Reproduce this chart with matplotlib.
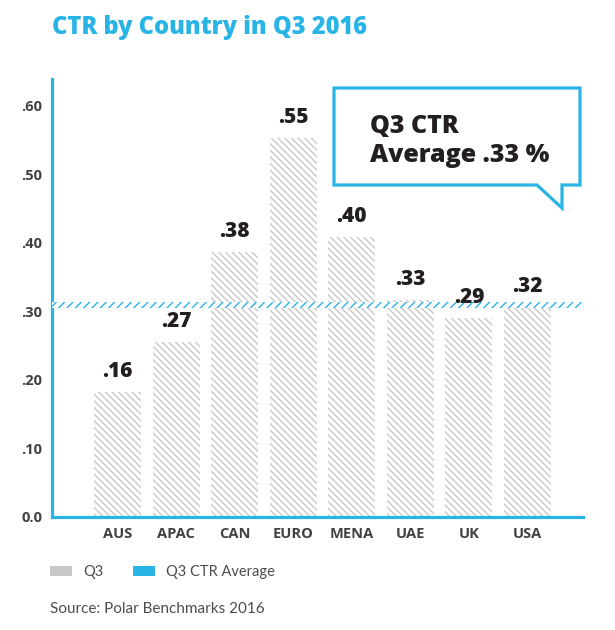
import matplotlib
matplotlib.use("Agg")
import matplotlib.pyplot as plt
from matplotlib.patches import Patch, Polygon

# data
countries = ["AUS", "APAC", "CAN", "EURO", "MENA", "UAE", "UK", "USA"]
ctr_q3 = [0.182, 0.255, 0.386, 0.552, 0.408, 0.316, 0.290, 0.305]
value_labels = [".16", ".27", ".38", ".55", ".40", ".33", ".29", ".32"]
ctr_average = 0.309
y_ticks = [0.0, 0.1, 0.2, 0.3, 0.4, 0.5, 0.6]
y_tick_labels = ["0.0", ".10", ".20", ".30", ".40", ".50", ".60"]

blue = "#29b4e6"
bar_gray = "#c8c8c8"
dark = "#231f20"
tick_gray = "#414042"
text_gray = "#4d4d4d"
heavy_font = ["Open Sans", "DejaVu Sans"]

plt.rcParams["font.family"] = ["Lato", "DejaVu Sans"]
plt.rcParams["hatch.linewidth"] = 1.0

W, H = 615, 630
fig = plt.figure(figsize=(W / 100, H / 100), dpi=100)
fig.patch.set_facecolor("white")

# axes box in pixels: left spine x=52, bottom y=517, top y=79, right end x=583
ax = fig.add_axes([52 / W, 1 - 517 / H, 531 / W, 438 / H])

x = list(range(len(countries)))
ax.bar(x, ctr_q3, width=0.8, facecolor="white", edgecolor=bar_gray,
       hatch="\\\\\\\\\\", linewidth=0, zorder=2)

# hatched average strip
ax.axhspan(ctr_average - 0.004, ctr_average + 0.004, facecolor="white",
           edgecolor=blue, hatch="////", linewidth=0, zorder=3)

for xi, h, lab in zip(x, ctr_q3, value_labels):
    ax.annotate(lab, (xi, h), xytext=(0, 11), textcoords="offset points",
                ha="center", va="baseline", fontsize=15, fontweight="heavy",
                family=heavy_font, color=dark, zorder=4)

ax.set_xlim(-1.12, 7.95)
ax.set_ylim(0, 0.6385)
ax.set_yticks(y_ticks)
ax.set_yticklabels(y_tick_labels)
ax.set_xticks(x)
ax.set_xticklabels(countries)
ax.tick_params(axis="both", length=0, colors=tick_gray, labelsize=10.5)
ax.tick_params(axis="y", pad=7)
ax.tick_params(axis="x", pad=7)
for t in ax.get_xticklabels() + ax.get_yticklabels():
    t.set_fontweight("bold")
    t.set_family(heavy_font)

for s in ["top", "right"]:
    ax.spines[s].set_visible(False)
for s in ["left", "bottom"]:
    ax.spines[s].set_color(blue)
    ax.spines[s].set_linewidth(2.3)

# title
fig.text(52 / W, 1 - 28 / H, "CTR by Country in Q3 2016", color=blue,
         fontsize=17, fontweight="heavy", family=heavy_font,
         ha="left", va="center")

# speech-bubble callout
bubble_px = [(334, 88), (580, 88), (580, 185), (562, 185), (562, 208),
             (537, 185), (334, 185)]
bubble = Polygon([(px / W, 1 - py / H) for px, py in bubble_px], closed=True,
                 transform=fig.transFigure, facecolor="white", edgecolor=blue,
                 linewidth=2.3, joinstyle="miter", zorder=5)
fig.patches.append(bubble)
fig.text(370 / W, 1 - 133 / H, "Q3 CTR", fontsize=18, fontweight="heavy",
         family=heavy_font, color=dark, ha="left", va="baseline", zorder=6)
fig.text(370 / W, 1 - 162 / H, "Average .33 %", fontsize=18,
         fontweight="heavy", family=heavy_font, color=dark,
         ha="left", va="baseline", zorder=6)

# legend
handles = [Patch(facecolor=bar_gray, edgecolor="none", label="Q3"),
           Patch(facecolor=blue, edgecolor="none", label="Q3 CTR Average")]
leg = fig.legend(handles=handles, loc="center left", ncol=2, frameon=False,
                 bbox_to_anchor=(50 / W, 1 - 572 / H), borderpad=0,
                 borderaxespad=0, handlelength=1.5, handleheight=0.75,
                 handletextpad=0.8, columnspacing=2.0, fontsize=10.5)
for t in leg.get_texts():
    t.set_color(text_gray)

fig.text(50 / W, 1 - 609 / H, "Source: Polar Benchmarks 2016", fontsize=11,
         color=text_gray, ha="left", va="center")

fig.savefig("out.png", dpi=100, facecolor="white")
